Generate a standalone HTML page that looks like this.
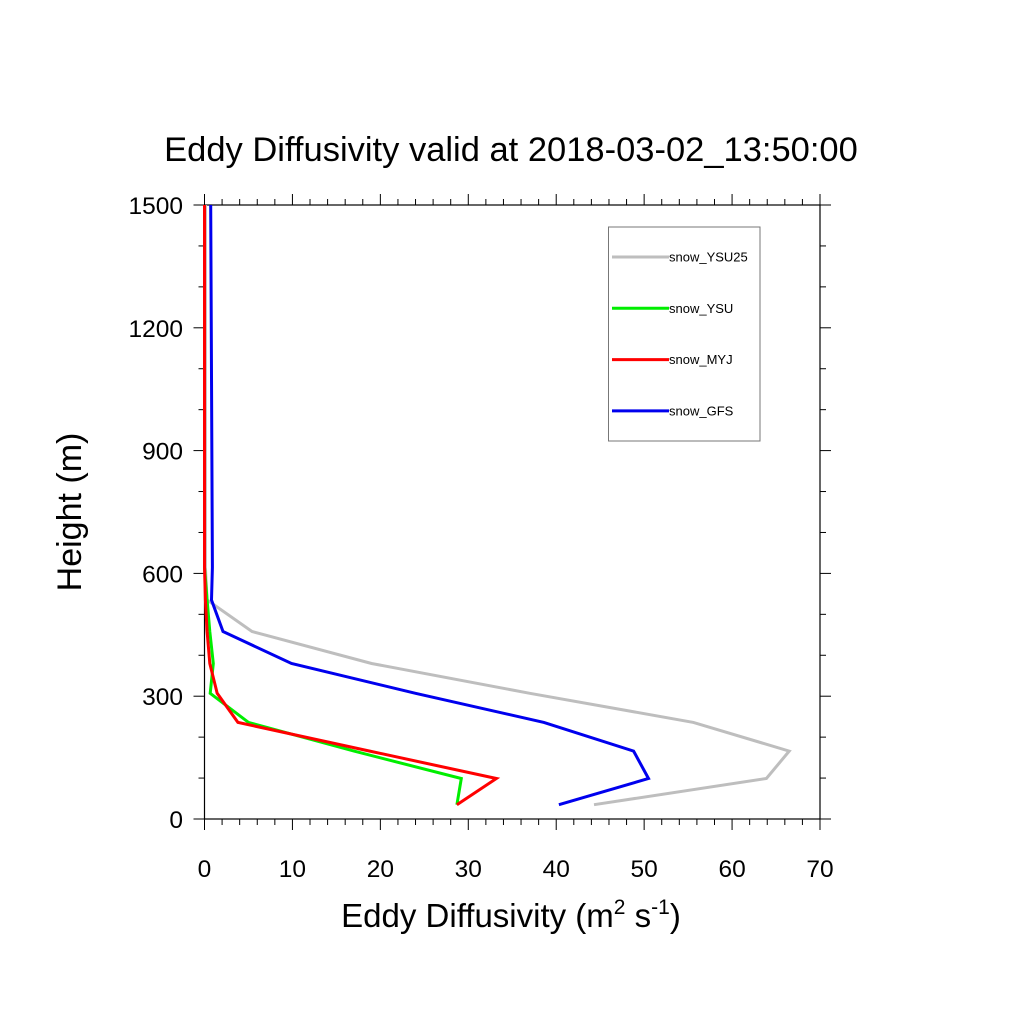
<!DOCTYPE html>
<html><head><meta charset="utf-8"><style>
body{margin:0;background:#fff;}
svg{display:block;font-family:"Liberation Sans",sans-serif;}
</style></head><body>
<svg id="chart" width="1024" height="1024" viewBox="0 0 1024 1024">
<text x="511" y="161" font-size="34.5" text-anchor="middle">Eddy Diffusivity valid at 2018-03-02_13:50:00</text>
<g id="axes"></g>
<g id="series"></g>
<text x="511" y="927" font-size="33" text-anchor="middle">Eddy Diffusivity (m<tspan font-size="21" dy="-13">2</tspan><tspan dy="13"> s</tspan><tspan font-size="21" dy="-13">-1</tspan><tspan dy="13">)</tspan></text>
<text transform="translate(81,512) rotate(-90)" font-size="34" text-anchor="middle">Height (m)</text>
<g>
<rect x="608.5" y="227" width="151.5" height="214" fill="#fff" stroke="#777" stroke-width="1"/>
<g id="legend-entries"></g>
</g>
</svg>
<script>
const heights = [35, 99, 166, 236, 307, 380, 458, 535, 615, 1500];
const seriesNames = ["snow_YSU25", "snow_YSU", "snow_MYJ", "snow_GFS"];
const seriesColors = ["#bebebe", "#00ee00", "#ff0000", "#0000ee"];
const ysu25Values = [44.3, 63.9, 66.5, 55.6, 37.0, 19.0, 5.4, 0.3, 0.1, 0.1];
const ysuValues = [28.7, 29.2, 17.0, 5.0, 0.65, 1.0, 0.6, 0.3, 0.0, 0.0];
const myjValues = [28.7, 33.2, 18.8, 3.8, 1.45, 0.6, 0.3, 0.1, 0.0, 0.0];
const gfsValues = [40.3, 50.5, 48.8, 38.6, 24.0, 9.9, 2.1, 0.8, 0.9, 0.7];
const xTicks = [0, 10, 20, 30, 40, 50, 60, 70];
const yTicks = [0, 300, 600, 900, 1200, 1500];

const NS = "http://www.w3.org/2000/svg";
const X0 = 204.5, X1 = 820, Y0 = 819, Y1 = 205;
const xs = v => X0 + (v / 70) * (X1 - X0);
const ys = v => Y0 - (v / 1500) * (Y0 - Y1);
function mk(tag, attrs, parent) { const e = document.createElementNS(NS, tag); for (const k in attrs) e.setAttribute(k, attrs[k]); parent.appendChild(e); return e; }
const axes = document.getElementById("axes");
const frame = mk("rect", {x: X0, y: Y1, width: X1 - X0, height: Y0 - Y1, fill: "none", stroke: "#000", "stroke-width": 1.2}, axes);


for (let v = 0; v <= 70; v += 2) {
  const major = v % 10 === 0, len = major ? 11 : 6, x = xs(v);
  mk("line", {x1: x, x2: x, y1: Y0, y2: Y0 + len, stroke: "#000", "stroke-width": 1}, axes);
  mk("line", {x1: x, x2: x, y1: Y1, y2: Y1 - len, stroke: "#000", "stroke-width": 1}, axes);
}
xTicks.forEach(v => {
  const t = mk("text", {x: xs(v), y: 877, "font-size": 24.5, "text-anchor": "middle"}, axes);
  t.textContent = v;
  
  
});
for (let v = 0; v <= 1500; v += 100) {
  const major = v % 300 === 0, len = major ? 11 : 6, y = ys(v);
  mk("line", {x1: X0, x2: X0 - len, y1: y, y2: y, stroke: "#000", "stroke-width": 1}, axes);
  mk("line", {x1: X1, x2: X1 + len, y1: y, y2: y, stroke: "#000", "stroke-width": 1}, axes);
}
yTicks.forEach(v => {
  const t = mk("text", {x: 183, y: ys(v) + 9, "font-size": 24.5, "text-anchor": "end"}, axes);
  t.textContent = v;
  
  
});
const allVals = [ysu25Values, ysuValues, myjValues, gfsValues];
const sg = document.getElementById("series");
allVals.forEach((vals, i) => {
  const pts = vals.map((v, j) => xs(v).toFixed(1) + "," + ys(heights[j]).toFixed(1)).join(" ");
  const p = mk("polyline", {points: pts, fill: "none", stroke: seriesColors[i], "stroke-width": 3, "stroke-linejoin": "miter"}, sg);
  
  
});
const lg = document.getElementById("legend-entries");
seriesNames.forEach((n, i) => {
  const y = 257 + i * 51.3;
  const g = mk("g", {}, lg);
  
  
  mk("line", {x1: 612, x2: 669, y1: y, y2: y, stroke: seriesColors[i], "stroke-width": 3}, g);
  const t = mk("text", {x: 669, y: y + 4.5, "font-size": 13}, g);
  t.textContent = n;
});
</script>
</body></html>
